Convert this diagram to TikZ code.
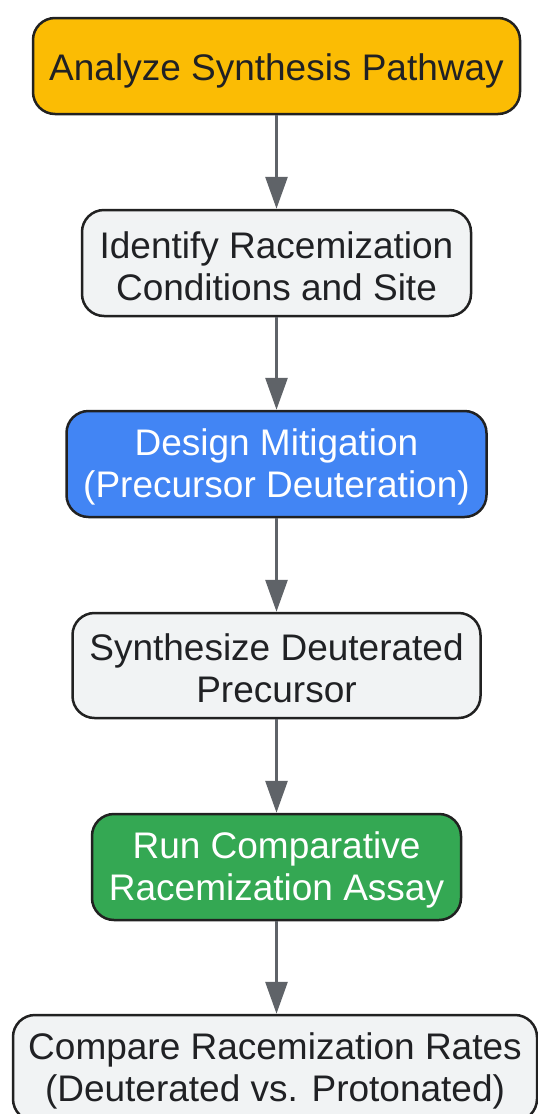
\documentclass[tikz,border=0pt]{standalone}
\usepackage{fontspec}
\setmainfont{Liberation Sans}
\usetikzlibrary{arrows.meta}
\definecolor{cOrange}{HTML}{FBBC04}
\definecolor{cBlue}{HTML}{4285F4}
\definecolor{cGreen}{HTML}{34A853}
\definecolor{cGray}{HTML}{F1F3F4}
\definecolor{cText}{HTML}{202124}
\definecolor{cEdge}{HTML}{5F6368}
\definecolor{cBorder}{HTML}{212121}
\tikzset{
  box/.style={draw=cBorder, line width=2.5pt, rounded corners=22pt, inner sep=0pt},
  lbl/.style={align=center, font=\fontsize{37}{42}\selectfont, inner sep=0pt, text=cText, yshift=-3pt},
  flow/.style={draw=cEdge, line width=3pt, -{Triangle[width=22pt,length=32pt]}}
}
\begin{document}
\begin{tikzpicture}[x=1pt,y=-1pt]
\useasboundingbox (0,0) rectangle (538,1114);
\node[box, fill=cOrange, minimum width=487pt, minimum height=96pt,
  label={[lbl, yshift=-1.5pt]center:Analyze Synthesis Pathway}] (n1) at (276.5,66) {};
\node[box, fill=cGray, minimum width=389pt, minimum height=106pt,
  label={[lbl]center:Identify Racemization\\Conditions and Site}] (n2) at (276.5,263) {};
\node[box, fill=cBlue, minimum width=420pt, minimum height=106pt,
  label={[lbl, text=white]center:Design Mitigation\\(Precursor Deuteration)}] (n3) at (276.5,464) {};
\node[box, fill=cGray, minimum width=408pt, minimum height=105pt,
  label={[lbl]center:Synthesize Deuterated\\Precursor}] (n4) at (276.5,665.5) {};
\node[box, fill=cGreen, minimum width=369pt, minimum height=106pt,
  label={[lbl, text=white]center:Run Comparative\\Racemization Assay}] (n5) at (276.5,867) {};
\node[box, fill=cGray, minimum width=524pt, minimum height=106pt,
  label={[lbl]center:Compare Racemization Rates\\(Deuterated vs. Protonated)}] (n6) at (275,1068) {};
\draw[flow] (n1) -- (n2);
\draw[flow] (n2) -- (n3);
\draw[flow] (n3) -- (n4);
\draw[flow] (n4) -- (n5);
\draw[flow] (n5.south) -- (n5.south |- n6.north);
\end{tikzpicture}
\end{document}
